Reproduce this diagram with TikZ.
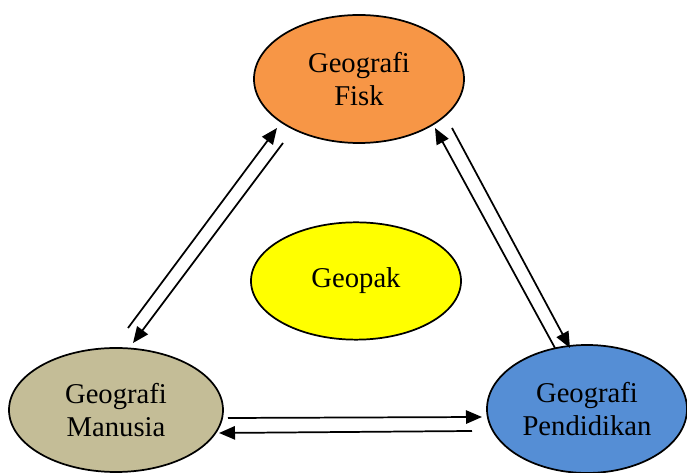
\documentclass[tikz,border=0pt]{standalone}
\usepackage{fontspec}
\setmainfont{Liberation Serif}
\usetikzlibrary{arrows.meta}
\usetikzlibrary{shapes.geometric}
\definecolor{fiskfill}{HTML}{F79646}
\definecolor{geopakfill}{HTML}{FFFF00}
\definecolor{manusiafill}{HTML}{C4BD97}
\definecolor{pendidikanfill}{HTML}{558ED5}

\begin{document}
\begin{tikzpicture}[x=0.75pt,y=-0.75pt,
        topic/.style={ellipse, draw=black, line width=1.3pt, inner sep=0pt, align=center,
            font=\fontsize{21.5}{24.5}\selectfont},
        link/.style={line width=1.3pt, -{Triangle[length=12pt,width=10pt]}}]
        \useasboundingbox (0,0) rectangle (687,473);
        % the four fields
        \node[topic, fill=fiskfill, minimum width=157.5pt, minimum height=96pt] (fisk) at (359,79) {Geografi\\Fisk};
        \node[topic, fill=geopakfill, minimum width=157.5pt, minimum height=88pt] (geopak) at (356,281) {Geopak};
        \node[topic, fill=manusiafill, minimum width=160.5pt, minimum height=93pt] (manusia) at (116,410) {Geografi\\Manusia};
        \node[topic, fill=pendidikanfill, minimum width=150pt, minimum height=96pt] (pendidikan) at (587,409) {Geografi\\Pendidikan};
        % ends of the links
        \coordinate (mf-from) at (128,328);
        \coordinate (mf-to) at (277,128);
        \coordinate (fm-from) at (283,143);
        \coordinate (fm-to) at (133,343);
        \coordinate (fp-from) at (452,128);
        \coordinate (fp-to) at (570,348);
        \coordinate (pf-from) at (555,348);
        \coordinate (pf-to) at (435,128);
        \coordinate (mp-from) at (228,418);
        \coordinate (mp-to) at (482,417);
        \coordinate (pm-from) at (472,431);
        \coordinate (pm-to) at (219,433);
        \draw[link] (mf-from) -- (mf-to);
        \draw[link] (fm-from) -- (fm-to);
        \draw[link] (fp-from) -- (fp-to);
        \draw[link] (pf-from) -- (pf-to);
        \draw[link] (mp-from) -- (mp-to);
        \draw[link] (pm-from) -- (pm-to);
    \end{tikzpicture}
\end{document}
